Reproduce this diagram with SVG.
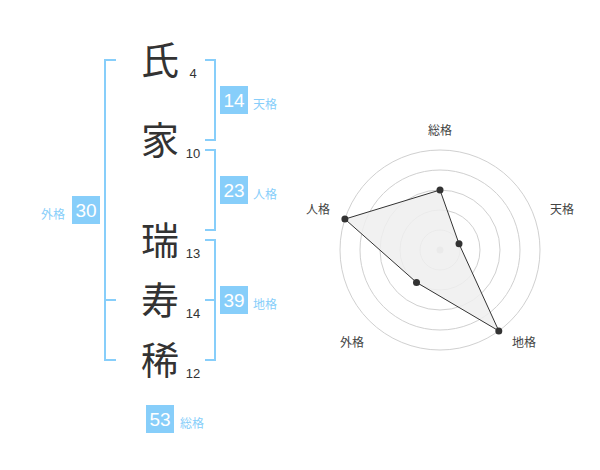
<svg xmlns="http://www.w3.org/2000/svg" width="600" height="470" viewBox="0 0 600 470">
<style>
.ch{font-family:"Noto Sans CJK JP","Noto Sans CJK SC",sans-serif;font-size:38px;fill:#333;text-anchor:middle}
.st{font-family:"Liberation Sans",Arial,sans-serif;font-size:13px;fill:#333;text-anchor:middle}
.br{fill:none;stroke:#87cefa;stroke-width:2}
.box{fill:#87cefa}
.bn{font-family:"Liberation Sans",Arial,sans-serif;font-size:19px;fill:#fff;text-anchor:middle}
.bl{font-family:"Noto Sans CJK JP","Noto Sans CJK SC",sans-serif;font-size:12px;fill:#87cefa}
.ring{fill:none;stroke:#d0d0d0;stroke-width:1}
.rl{font-family:"Noto Sans CJK JP","Noto Sans CJK SC",sans-serif;font-size:12px;fill:#444;text-anchor:middle}
.pt{fill:#333}
</style>
<rect width="600" height="470" fill="#fff"/>
<g id="name">
<g id="c1"><text class="ch" x="160" y="74">氏</text><text class="st" x="193" y="78">4</text></g>
<g id="c2"><text class="ch" x="160" y="154">家</text><text class="st" x="193" y="158">10</text></g>
<g id="c3"><text class="ch" x="160" y="254">瑞</text><text class="st" x="193" y="258">13</text></g>
<g id="c4"><text class="ch" x="160" y="314">寿</text><text class="st" x="193" y="318">14</text></g>
<g id="c5"><text class="ch" x="160" y="374">稀</text><text class="st" x="193" y="378">12</text></g>
</g>
<g id="brackets">
<path class="br" d="M116,60 H105 V360 H116 M105,300 H116"/>
<path class="br" d="M205,60 H215 V140 H205"/>
<path class="br" d="M205,150 H215 V230 H205"/>
<path class="br" d="M205,240 H215 V360 H205 M205,300 H215"/>
</g>
<g id="tenkaku"><rect class="box" x="220" y="86" width="28" height="28"/><text class="bn" x="234" y="107">14</text><text class="bl" x="253" y="109">天格</text></g>
<g id="jinkaku"><rect class="box" x="220" y="176" width="28" height="28"/><text class="bn" x="234" y="197">23</text><text class="bl" x="253" y="199">人格</text></g>
<g id="chikaku"><rect class="box" x="220" y="286" width="28" height="28"/><text class="bn" x="234" y="307">39</text><text class="bl" x="253" y="309">地格</text></g>
<g id="gaikaku"><rect class="box" x="72" y="196" width="28" height="28"/><text class="bn" x="86" y="217">30</text><text class="bl" x="41" y="219">外格</text></g>
<g id="soukaku"><rect class="box" x="146" y="405" width="28" height="28"/><text class="bn" x="160" y="426">53</text><text class="bl" x="180" y="428">総格</text></g>
<g id="radar">
<circle class="ring" cx="440" cy="250" r="20"/>
<circle class="ring" cx="440" cy="250" r="40"/>
<circle class="ring" cx="440" cy="250" r="60"/>
<circle class="ring" cx="440" cy="250" r="80"/>
<circle class="ring" cx="440" cy="250" r="100"/>
<circle cx="440" cy="250" r="3.5" fill="#ccc"/>
<polygon points="440,190 459,243.8 498.8,330.9 416.5,282.4 344.9,219.1" fill="#efefef" fill-opacity="0.85" stroke="#333" stroke-width="1"/>
<circle class="pt" cx="440" cy="190" r="3.5"/>
<circle class="pt" cx="459" cy="243.8" r="3.5"/>
<circle class="pt" cx="498.8" cy="330.9" r="3.5"/>
<circle class="pt" cx="416.5" cy="282.4" r="3.5"/>
<circle class="pt" cx="344.9" cy="219.1" r="3.5"/>
<text class="rl" x="440" y="135">総格</text>
<text class="rl" x="562" y="214">天格</text>
<text class="rl" x="524" y="347">地格</text>
<text class="rl" x="352" y="347">外格</text>
<text class="rl" x="318" y="214">人格</text>
</g>
</svg>
